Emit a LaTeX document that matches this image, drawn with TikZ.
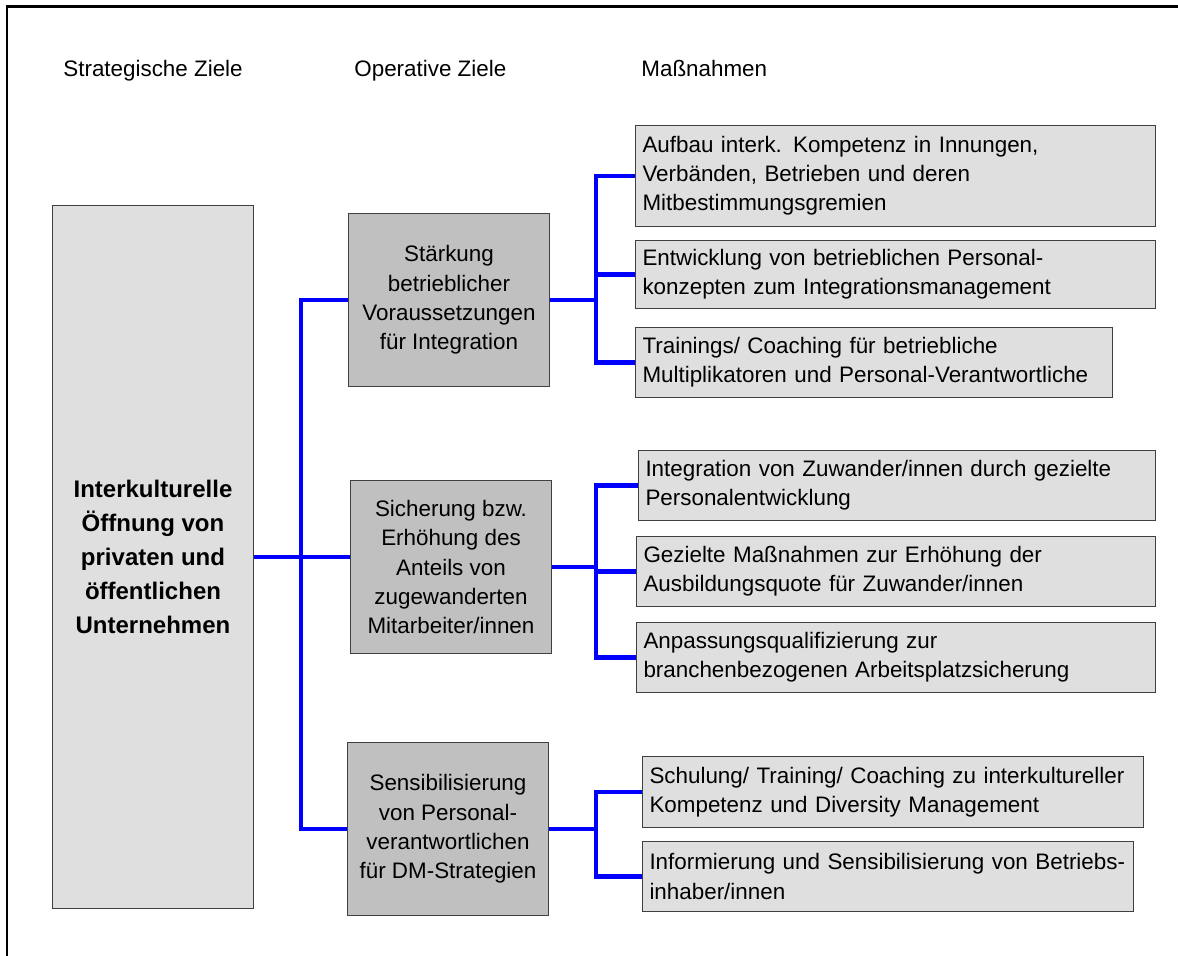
\documentclass[tikz,border=0pt]{standalone}
\usepackage{fontspec}
\setmainfont{Liberation Sans}
\usepackage{xcolor}
\usetikzlibrary{positioning,calc}

\definecolor{boxlight}{gray}{0.875}
\definecolor{boxdark}{gray}{0.753}
\definecolor{linkblue}{rgb}{0,0,1}

\begin{document}
\begin{tikzpicture}[
				x=0.5pt, y=-0.5pt,
				every node/.style={font=\fontsize{11.2}{14.6}\selectfont},
				header/.style={anchor=base west, inner sep=0pt},
				strategie/.style={
					draw=black!75,
					fill=boxlight,
					line width=0.5pt,
					anchor=north west,
					align=center,
					inner sep=0pt,
					font=\bfseries\fontsize{12}{17}\selectfont
				},
				ziel/.style={
					draw=black!75,
					fill=boxdark,
					line width=0.5pt,
					anchor=north west,
					align=center,
					inner sep=0pt,
					minimum width=100.5pt,
					minimum height=86.5pt
				},
				massnahme/.style={
					draw=black!75,
					fill=boxlight,
					line width=0.5pt,
					anchor=north west,
					align=left,
					inner xsep=3.5pt,
					inner ysep=0pt
				},
				link/.style={draw=linkblue, line width=2.2pt}
				]
				\useasboundingbox (0,0) rectangle (1178,956);
				\draw[line width=1.3pt] (7,956) -- (7,6.5) -- (1178,6.5);
				
				% column headers
				\node[header] (hstrat) at (63,77) {Strategische Ziele};
				\node[header] (hop) at (354,77) {Operative Ziele};
				\node[header] (hmass) at (641,77) {Maßnahmen};
				
				% strategic goal
				\node[strategie, minimum width=100.5pt, minimum height=351.5pt] (strat) at (52,205)
				{Interkulturelle\\Öffnung von\\privaten und\\öffentlichen\\Unternehmen};
				
				% operative goals
				\node[ziel] (ziel1) at (348,213) {Stärkung\\betrieblicher\\Voraussetzungen\\für Integration};
				\node[ziel] (ziel2) at (350,480) {Sicherung bzw.\\Erhöhung des\\Anteils von\\zugewanderten\\Mitarbeiter/innen};
				\node[ziel] (ziel3) at (347,742) {Sensibilisierung\\von Personal-\\verantwortlichen\\für DM-Strategien};
				
				% measures
				\node[massnahme, text width=253pt, minimum height=50.5pt] (m1) at (635,125)
				{Aufbau interk. Kompetenz in Innungen,\\Verbänden, Betrieben und deren\\Mitbestimmungsgremien};
				\node[massnahme, text width=253pt, minimum height=34pt] (m2) at (635,240)
				{Entwicklung von betrieblichen Personal-\\konzepten zum Integrationsmanagement};
				\node[massnahme, text width=231.5pt, minimum height=35pt] (m3) at (635,327)
				{Trainings/ Coaching für betriebliche\\Multiplikatoren und Personal-Verantwortliche};
				\node[massnahme, text width=251.5pt, minimum height=35pt] (m4) at (638,450)
				{Integration von Zuwander/innen durch gezielte\\Personalentwicklung};
				\node[massnahme, text width=252.5pt, minimum height=35pt] (m5) at (636,536)
				{Gezielte Maßnahmen zur Erhöhung der\\Ausbildungsquote für Zuwander/innen};
				\node[massnahme, text width=252.5pt, minimum height=35pt] (m6) at (636,622)
				{Anpassungsqualifizierung zur\\branchenbezogenen Arbeitsplatzsicherung};
				\node[massnahme, text width=243.5pt, minimum height=35.5pt] (m7) at (642,756)
				{Schulung/ Training/ Coaching zu interkultureller\\Kompetenz und Diversity Management};
				\node[massnahme, text width=238.5pt, minimum height=35pt] (m8) at (642,841)
				{Informierung und Sensibilisierung von Betriebs-\\inhaber/innen};
				
				% connectors
				\coordinate (stamm) at (301,0);
				\coordinate (ast) at (596,0);
				\draw[link] (strat.east) -- (ziel2.west |- strat.east);
				\draw[link] (ziel1.west) -| (stamm |- strat.east) |- (ziel3.west);
				
				\draw[link] (ziel1.east) -- (ast |- ziel1.east);
				\draw[link] (m1.west) -| (ast |- m2.west) |- (m3.west);
				\draw[link] (ast |- m2.west) -- (m2.west);
				
				\draw[link] (ziel2.east) -- (ast |- ziel2.east);
				\draw[link] (m4.west) -| (ast |- m5.west) |- (m6.west);
				\draw[link] (ast |- m5.west) -- (m5.west);
				
				\draw[link] (ziel3.east) -- (ast |- ziel3.east);
				\draw[link] (m7.west) -| (ast |- m8.west) -- (m8.west);
			\end{tikzpicture}
\end{document}
